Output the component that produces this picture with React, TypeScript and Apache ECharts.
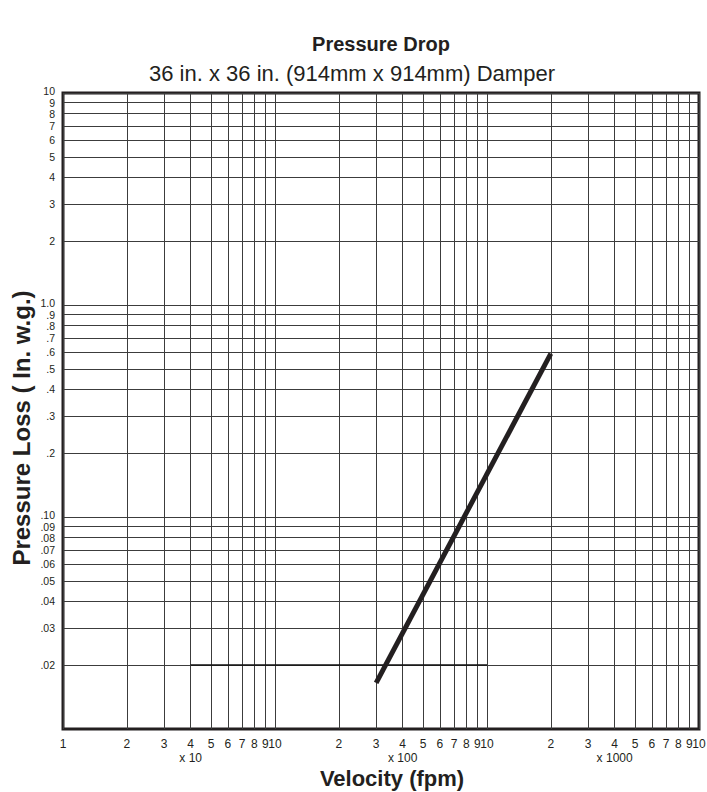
import React, { useEffect, useRef } from 'react';
import * as echarts from 'echarts';

// Data
const velocityFpm = [300, 2000];
const pressureLossInWg = [0.0165, 0.59];

const xGridValues = [
  10, 20, 30, 40, 50, 60, 70, 80, 90,
  100, 200, 300, 400, 500, 600, 700, 800, 900,
  1000, 2000, 3000, 4000, 5000, 6000, 7000, 8000, 9000, 10000,
];
const xTickLabels = [
  '1', '2', '3', '4\nx 10', '5', '6', '7', '8', '9',
  '10', '2', '3', '4\nx 100', '5', '6', '7', '8', '9',
  '10', '2', '3', '4\nx 1000', '5', '6', '7', '8', '9', '10',
];
const yGridValues = [
  0.02, 0.03, 0.04, 0.05, 0.06, 0.07, 0.08, 0.09,
  0.1, 0.2, 0.3, 0.4, 0.5, 0.6, 0.7, 0.8, 0.9,
  1, 2, 3, 4, 5, 6, 7, 8, 9, 10,
];
const yTickLabels = [
  '.02', '.03', '.04', '.05', '.06', '.07', '.08', '.09',
  '.10', '.2', '.3', '.4', '.5', '.6', '.7', '.8', '.9',
  '1.0', '2', '3', '4', '5', '6', '7', '8', '9', '10',
];

const titleText = 'Pressure Drop';
const subtitleText = '36 in. x 36 in. (914mm x 914mm) Damper';
const xAxisName = 'Velocity (fpm)';
const yAxisName = 'Pressure Loss ( In. w.g.)';

export default function App() {
  const ref = useRef<HTMLDivElement>(null);

  useEffect(() => {
    if (!ref.current) return;
    const chart = echarts.init(ref.current, null, { renderer: 'svg' });
    const font = '"Liberation Sans", Arial, Helvetica, sans-serif';
    const ink = '#231f20';
    const X_MIN = 10, X_MAX = 10000, Y_MIN = 0.01, Y_MAX = 10;

    const vLines = xGridValues.map((v, i) => [
      {
        coord: [v, Y_MIN],
        label: { formatter: xTickLabels[i], distance: 8, lineHeight: 14 },
      },
      { coord: [v, Y_MAX] },
    ]);
    const hLines = yGridValues.map((v, i) => {
      const lead = Math.round(v / Math.pow(10, Math.floor(Math.log10(v) + 1e-9)));
      // lift the decade labels slightly so the crowded labels stay apart
      const dy = lead === 1 || lead === 10 ? -2 : 0;
      return [
        {
          coord: [X_MIN, v],
          label: {
            formatter: yTickLabels[i],
            distance: 8,
            lineHeight: 9,
            fontSize: 10.5,
            offset: [0, dy],
          },
        },
        { coord: [X_MAX, v] },
      ];
    });
    const segment = [
      { coord: [40, 0.02], lineStyle: { color: '#111', width: 1.6 }, label: { show: false } },
      { coord: [1000, 0.02] },
    ];

    const centered = {
      align: 'center',
      verticalAlign: 'middle',
      textAlign: 'center',
      textVerticalAlign: 'middle',
    };

    chart.setOption({
      animation: false,
      backgroundColor: '#ffffff',
      grid: {
        left: 63,
        top: 93,
        width: 636,
        height: 636,
        show: true,
        borderColor: ink,
        borderWidth: 3,
        backgroundColor: 'transparent',
      },
      xAxis: {
        type: 'log',
        logBase: 10,
        min: X_MIN,
        max: X_MAX,
        axisLine: { show: false },
        axisTick: { show: false },
        axisLabel: { show: false },
        splitLine: { show: false },
      },
      yAxis: {
        type: 'log',
        logBase: 10,
        min: Y_MIN,
        max: Y_MAX,
        axisLine: { show: false },
        axisTick: { show: false },
        axisLabel: { show: false },
        splitLine: { show: false },
      },
      series: [
        {
          type: 'line',
          data: [],
          z: 1,
          silent: true,
          markLine: {
            silent: true,
            animation: false,
            symbol: ['none', 'none'],
            lineStyle: { color: '#3c3c3c', width: 1, type: 'solid' },
            emphasis: { disabled: true },
            label: {
              show: true,
              position: 'start',
              color: ink,
              fontSize: 12,
              fontFamily: font,
            },
            data: [...vLines, ...hLines, segment],
          },
        },
        {
          type: 'line',
          z: 5,
          symbol: 'none',
          silent: true,
          data: velocityFpm.map((v, i) => [v, pressureLossInWg[i]]),
          lineStyle: { color: ink, width: 5, cap: 'butt' },
        },
      ],
      graphic: [
        {
          type: 'text',
          x: 381,
          y: 44,
          style: {
            text: titleText,
            fill: ink,
            fontSize: 20,
            fontWeight: 'bold',
            fontFamily: font,
            ...centered,
          },
        },
        {
          type: 'text',
          x: 352,
          y: 73,
          style: {
            text: subtitleText,
            fill: ink,
            fontSize: 22,
            fontFamily: font,
            ...centered,
          },
        },
        {
          type: 'text',
          x: 392,
          y: 778,
          style: {
            text: xAxisName,
            fill: ink,
            fontSize: 22,
            fontWeight: 'bold',
            fontFamily: font,
            ...centered,
          },
        },
        {
          type: 'text',
          x: 21,
          y: 428,
          rotation: Math.PI / 2,
          style: {
            text: yAxisName,
            fill: ink,
            fontSize: 24,
            fontWeight: 'bold',
            fontFamily: font,
            ...centered,
          },
        },
      ],
    });

    return () => chart.dispose();
  }, []);

  return (
    <div
      ref={ref}
      style={{ position: 'fixed', left: 0, top: 0, width: 707, height: 792 }}
    />
  );
}
